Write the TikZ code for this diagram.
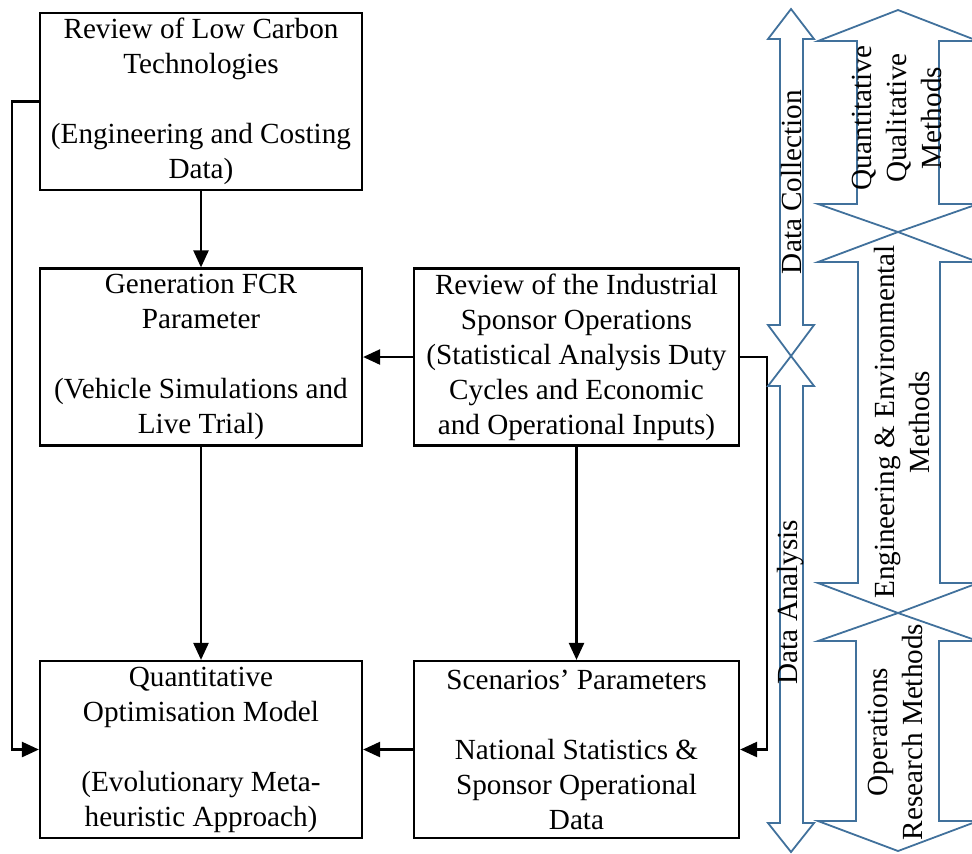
\documentclass[tikz,border=0pt]{standalone}
\usepackage{fontspec}
\setmainfont{Liberation Serif}
\usetikzlibrary{arrows.meta}
\definecolor{bl}{HTML}{41719C}
\tikzset{
  box/.style={draw=black, line width=1.1pt, align=center, inner sep=0pt,
    minimum width=161pt, minimum height=88.5pt, font=\fontsize{14.6}{17.5}\selectfont},
  wbox/.style={box, minimum width=162.5pt},
  conn/.style={draw=black, line width=1.2pt},
  arr/.style={conn, -{Triangle[length=8.5pt,width=7.5pt]}},
  blarrow/.style={draw=bl, line width=0.9pt, line join=miter},
  vlabel/.style={rotate=90, align=center, inner sep=0pt, font=\fontsize{14.6}{17.5}\selectfont}
}
\begin{document}
\begin{tikzpicture}[x=0.5pt,y=-0.5pt]
\useasboundingbox (0,0) rectangle (972,853);
% boxes
\node[box] (A) at (201,101.5) {Review of Low Carbon\\Technologies\\~\\(Engineering and Costing\\Data)};
\node[box] (B) at (201,357) {Generation FCR\\Parameter\\~\\(Vehicle Simulations and\\Live Trial)};
\node[wbox] (C) at (576.5,357) {Review of the Industrial\\Sponsor Operations\\(Statistical Analysis Duty\\Cycles and Economic\\and Operational Inputs)};
\node[box] (D) at (201,749.5) {Quantitative\\Optimisation Model\\~\\(Evolutionary Meta-\\heuristic Approach)};
\node[wbox] (E) at (576.5,749.5) {Scenarios’ Parameters\\~\\National Statistics \&\\Sponsor Operational\\Data};
% connectors
\draw[arr] (A.south) -- (B.north);
\draw[arr] (B.south) -- (D.north);
\draw[arr] (C.west) -- (B.east);
\draw[arr] (C.south) -- (E.north);
\draw[arr] (E.west) -- (D.east);
\coordinate (aL) at (12,0);
\coordinate (cR) at (767,0);
\draw[arr] (A.west) -- (aL |- A.west) |- (D.west);
\draw[arr] (C.east) -- (cR |- C.east) |- (E.east);
% blue arrows
\begin{scope}
\clip (0,0) rectangle (972,853);
\draw[blarrow] (791,9) -- (814,39) -- (803,39) -- (803,325) -- (814,325) -- (791,356) -- (768,325) -- (780,325) -- (780,39) -- (768,39) -- cycle;
\draw[blarrow] (791,356) -- (814,386) -- (803,386) -- (803,823) -- (814,823) -- (791,852) -- (768,823) -- (780,823) -- (780,386) -- (768,386) -- cycle;
\draw[blarrow] (898,10) -- (978,41) -- (939,41) -- (939,204) -- (978,204) -- (898,232) -- (818,204) -- (857,204) -- (857,41) -- (818,41) -- cycle;
\draw[blarrow] (898,232) -- (978,262) -- (940,262) -- (940,583) -- (978,583) -- (898,613) -- (818,583) -- (858,583) -- (858,262) -- (818,262) -- cycle;
\draw[blarrow] (898,613) -- (978,641) -- (939,641) -- (939,821) -- (978,821) -- (898,851) -- (818,821) -- (856,821) -- (856,641) -- (818,641) -- cycle;
\end{scope}
% labels
\node[vlabel] (dc) at (791,182) {Data Collection};
\node[vlabel] (da) at (791,602) {Data Analysis};
\node[vlabel] (qm) at (897,118) {Quantitative\\Qualitative\\Methods};
\node[vlabel] (em) at (902,422) {Engineering \& Environmental\\Methods};
\node[vlabel] (om) at (895,732) {Operations\\Research Methods};
\end{tikzpicture}
\end{document}
